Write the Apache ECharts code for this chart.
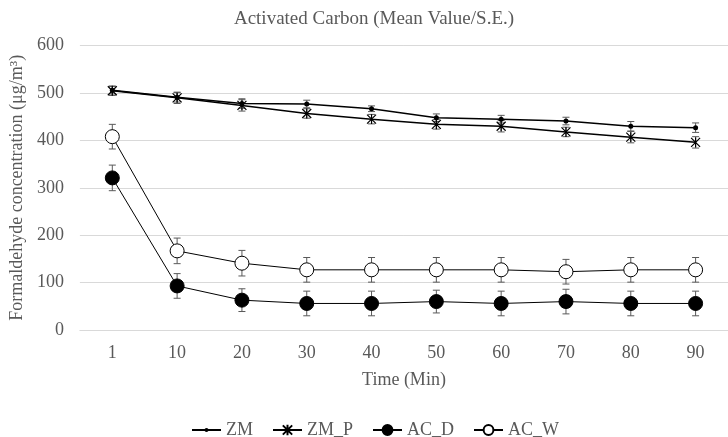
<!DOCTYPE html>
<html><head><meta charset="utf-8">
<script src="https://cdn.jsdelivr.net/npm/echarts@6/dist/echarts.min.js"></script>
<style>html,body{margin:0;padding:0;background:#fff}#c{width:728px;height:437px}</style>
</head><body><div id="c"></div>
<script>
const categories = ['1','10','20','30','40','50','60','70','80','90'];
const yTicks = [0,100,200,300,400,500,600];
const zm    = [506,491,478,477,467,448,445,441,430,427];
const zmP   = [505,490,474,457,445,434,430,418,407,396];
const acD   = [321,93,63,56,56,60,56,60,56,56];
const acW   = [408,167,141,127,127,127,127,123,127,127];
const zmErr  = [8,10,10,8,6,8,8,8,10,10];
const zmPErr = [10,12,12,10,10,10,12,10,12,12];
const acDErr = [27,26,24,26,26,24,26,26,26,26];
const acWErr = [26,27,27,26,26,26,26,26,26,26];

const FONT = '"Liberation Serif", "Times New Roman", serif';
const GREY = '#595959';
// symbols padded with move-to corners so legend icons keep the small size
const DOT  = 'path://M0,0M14,14M4.5,7A2.5,2.5 0 1,0 9.5,7A2.5,2.5 0 1,0 4.5,7Z';
const STAR = 'path://M-1,-1M11,11M0,0L10,10M10,0L0,10M5,-0.5L5,10.5';
const RING = 'path://M-1,-1M15,15M0,7A7,7 0 1,0 14,7A7,7 0 1,0 0,7Z';

function errSeries(name, vals, errs) {
  return {
    type: 'custom', name: 'err_' + name, silent: true, z: 1,
    encode: { x: 0, y: [1, 2] },
    data: vals.map((v, i) => [i, v - errs[i], v + errs[i]]),
    renderItem(params, api) {
      const lo = api.coord([api.value(0), api.value(1)]);
      const hi = api.coord([api.value(0), api.value(2)]);
      const w = 3.5;
      const st = { stroke: GREY, lineWidth: 1 };
      return { type: 'group', children: [
        { type: 'line', shape: { x1: lo[0], y1: lo[1], x2: hi[0], y2: hi[1] }, style: st },
        { type: 'line', shape: { x1: lo[0] - w, y1: lo[1], x2: lo[0] + w, y2: lo[1] }, style: st },
        { type: 'line', shape: { x1: hi[0] - w, y1: hi[1], x2: hi[0] + w, y2: hi[1] }, style: st }
      ]};
    }
  };
}

function lineSeries(name, vals, symbol, size, fill, lw, bw) {
  return {
    type: 'line', name, data: vals, z: 3,
    symbol, symbolSize: size, showAllSymbol: true,
    lineStyle: { color: '#000', width: lw },
    itemStyle: { color: fill, borderColor: '#000', borderWidth: bw },
    emphasis: { disabled: true }
  };
}

const chart = echarts.init(document.getElementById('c'), null, { renderer: 'canvas' });
chart.setOption({
  animation: false,
  backgroundColor: '#fff',
  title: {
    text: 'Activated Carbon (Mean Value/S.E.)',
    left: 369, top: 5, textAlign: 'center',
    textStyle: { fontFamily: FONT, fontSize: 19, fontWeight: 'normal', color: GREY }
  },
  legend: {
    left: 186, top: 416,
    itemWidth: 29, itemHeight: 14, itemGap: 19,
    data: ['ZM', 'ZM_P', 'AC_D', 'AC_W'],
    textStyle: { fontFamily: FONT, fontSize: 18, color: GREY }
  },
  grid: { left: 77.5, top: 45.7, width: 659, height: 284.3, containLabel: false },
  xAxis: {
    type: 'category', data: categories, boundaryGap: true,
    name: 'Time (Min)', nameLocation: 'middle', nameGap: 41,
    nameTextStyle: { fontFamily: FONT, fontSize: 18, color: GREY },
    axisLine: { show: true, lineStyle: { color: '#d9d9d9', width: 1 } },
    axisTick: { show: false },
    axisLabel: { fontFamily: FONT, fontSize: 18, color: GREY, margin: 14 }
  },
  yAxis: {
    type: 'value', min: yTicks[0], max: yTicks[yTicks.length - 1], interval: 100,
    name: 'Formaldehyde concentration (μg/m³)', nameLocation: 'middle', nameGap: 52,
    nameTextStyle: { fontFamily: FONT, fontSize: 18, color: GREY },
    axisLine: { show: false }, axisTick: { show: false },
    splitLine: { lineStyle: { color: '#d9d9d9', width: 1 } },
    axisLabel: { fontFamily: FONT, fontSize: 18, color: GREY, margin: 16 }
  },
  series: [
    errSeries('ZM', zm, zmErr),
    errSeries('ZM_P', zmP, zmPErr),
    errSeries('AC_D', acD, acDErr),
    errSeries('AC_W', acW, acWErr),
    lineSeries('ZM', zm, DOT, 14, '#000', 1.5, 0),
    lineSeries('ZM_P', zmP, STAR, 10.8, '#000', 1.5, 1.2),
    lineSeries('AC_D', acD, RING, 16, '#000', 1, 1),
    lineSeries('AC_W', acW, RING, 16, '#fff', 1, 1)
  ]
});
</script>
</body></html>
